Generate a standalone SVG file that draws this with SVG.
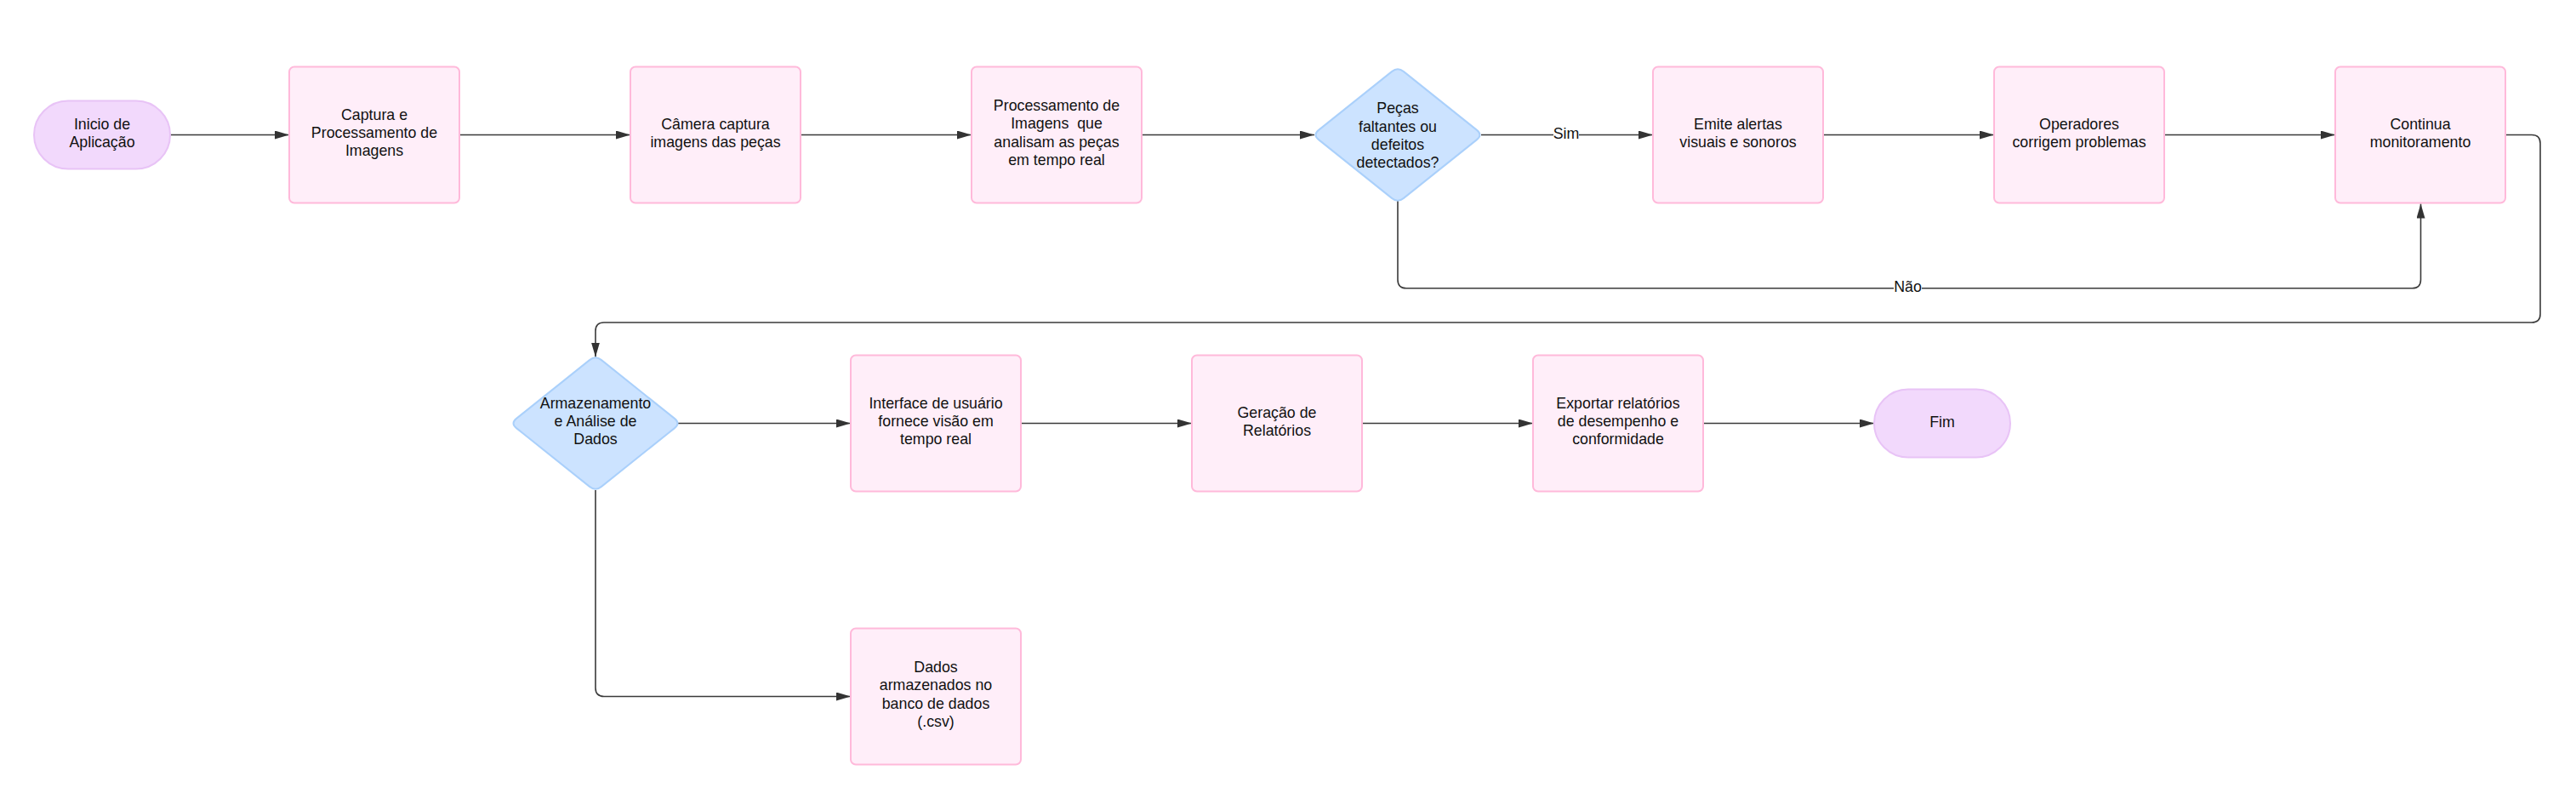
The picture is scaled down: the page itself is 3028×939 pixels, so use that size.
<svg xmlns="http://www.w3.org/2000/svg" width="3028" height="939" viewBox="0 0 3028 939">
<style>
.box{fill:#FFEEF9;stroke:#FFB9DA;stroke-width:2}
.pill{fill:#F2D9FC;stroke:#E8C3F6;stroke-width:2}
.dia{fill:#CCE3FF;stroke:#AAD0FB;stroke-width:2}
.t{font-family:"Liberation Sans",Arial,sans-serif;font-size:17.8px;fill:#111;text-anchor:middle}
.c{fill:none;stroke:#3a3a3a;stroke-width:1.6}
.lbl{fill:#fff}
</style>
<defs>
<marker id="ah" markerUnits="userSpaceOnUse" markerWidth="18" markerHeight="11" refX="17" refY="5" orient="auto">
<path d="M0,0 L17,5 L0,10 Z" fill="#333"/>
</marker>
<path id="diamond" d="M -93,-5.6 L -7,-74.4 Q 0,-80 7,-74.4 L 93,-5.6 Q 100,0 93,5.6 L 7,74.4 Q 0,80 -7,74.4 L -93,5.6 Q -100,0 -93,-5.6 Z"/>
</defs>
<rect width="3028" height="939" fill="#fff"/>

<g id="connectors">
<path class="c" d="M200,158.5 H340" marker-end="url(#ah)"/>
<path class="c" d="M540,158.5 H741" marker-end="url(#ah)"/>
<path class="c" d="M941,158.5 H1142" marker-end="url(#ah)"/>
<path class="c" d="M1343,158.5 H1545" marker-end="url(#ah)"/>
<path class="c" d="M1741,158.5 H1943" stroke-width="2.6" marker-end="url(#ah)"/>
<rect class="lbl" x="1826" y="146" width="30" height="20"/>
<text class="t" x="1841" y="162.5">Sim</text>
<path class="c" d="M2144,158.5 H2344" marker-end="url(#ah)"/>
<path class="c" d="M2545,158.5 H2745" marker-end="url(#ah)"/>
<path class="c" d="M1643,236 V328.7 Q1643,338.7 1653,338.7 H2835.5 Q2845.5,338.7 2845.5,328.7 V239.5" stroke="#555" stroke-width="1.8" marker-end="url(#ah)"/>
<rect class="lbl" x="2226" y="326" width="33" height="20"/>
<text class="t" x="2242.5" y="342.5">Não</text>
<path class="c" d="M2946,158.5 H2976 Q2986,158.5 2986,168.5 V369 Q2986,379 2976,379 H710 Q700,379 700,389 V419.5" marker-end="url(#ah)"/>
<path class="c" d="M797,497.5 H1000" marker-end="url(#ah)"/>
<path class="c" d="M1201,497.5 H1401" marker-end="url(#ah)"/>
<path class="c" d="M1602,497.5 H1802" marker-end="url(#ah)"/>
<path class="c" d="M2003,497.5 H2203" marker-end="url(#ah)"/>
<path class="c" d="M700,576 V808.5 Q700,818.5 710,818.5 H1000" marker-end="url(#ah)"/>
</g>

<g id="inicio">
<rect class="pill" x="40" y="118.5" width="160" height="80" rx="40" ry="40"/>
<text class="t" x="120" y="151.5">Inicio de</text>
<text class="t" x="120" y="172.7">Aplicação</text>
</g>

<g id="captura">
<rect class="box" x="340" y="78.5" width="200" height="160" rx="6"/>
<text class="t" x="440" y="140.5">Captura e</text>
<text class="t" x="440" y="161.8">Processamento de</text>
<text class="t" x="440" y="183.1">Imagens</text>
</g>

<g id="camera">
<rect class="box" x="741" y="78.5" width="200" height="160" rx="6"/>
<text class="t" x="841" y="151.5">Câmera captura</text>
<text class="t" x="841" y="172.7">imagens das peças</text>
</g>

<g id="processamento">
<rect class="box" x="1142" y="78.5" width="200" height="160" rx="6"/>
<text class="t" x="1242" y="129.9">Processamento de</text>
<text class="t" x="1242" y="151.2" xml:space="preserve">Imagens  que</text>
<text class="t" x="1242" y="172.5">analisam as peças</text>
<text class="t" x="1242" y="193.8">em tempo real</text>
</g>

<g id="decisao-pecas">
<use href="#diamond" class="dia" transform="translate(1643,158.5)"/>
<text class="t" x="1643" y="133.3">Peças</text>
<text class="t" x="1643" y="154.6">faltantes ou</text>
<text class="t" x="1643" y="175.9">defeitos</text>
<text class="t" x="1643" y="197.2">detectados?</text>
</g>

<g id="alertas">
<rect class="box" x="1943" y="78.5" width="200" height="160" rx="6"/>
<text class="t" x="2043" y="151.5">Emite alertas</text>
<text class="t" x="2043" y="172.7">visuais e sonoros</text>
</g>

<g id="operadores">
<rect class="box" x="2344" y="78.5" width="200" height="160" rx="6"/>
<text class="t" x="2444" y="151.5">Operadores</text>
<text class="t" x="2444" y="172.7">corrigem problemas</text>
</g>

<g id="continua">
<rect class="box" x="2745" y="78.5" width="200" height="160" rx="6"/>
<text class="t" x="2845" y="151.5">Continua</text>
<text class="t" x="2845" y="172.7">monitoramento</text>
</g>

<g id="armazenamento">
<use href="#diamond" class="dia" transform="translate(700,497.5)"/>
<text class="t" x="700" y="479.5">Armazenamento</text>
<text class="t" x="700" y="500.8">e Análise de</text>
<text class="t" x="700" y="522.1">Dados</text>
</g>

<g id="interface">
<rect class="box" x="1000" y="417.5" width="200" height="160" rx="6"/>
<text class="t" x="1100" y="479.5">Interface de usuário</text>
<text class="t" x="1100" y="500.8">fornece visão em</text>
<text class="t" x="1100" y="522.1">tempo real</text>
</g>

<g id="relatorios">
<rect class="box" x="1401" y="417.5" width="200" height="160" rx="6"/>
<text class="t" x="1501" y="490.5">Geração de</text>
<text class="t" x="1501" y="511.7">Relatórios</text>
</g>

<g id="exportar">
<rect class="box" x="1802" y="417.5" width="200" height="160" rx="6"/>
<text class="t" x="1902" y="479.5">Exportar relatórios</text>
<text class="t" x="1902" y="500.8">de desempenho e</text>
<text class="t" x="1902" y="522.1">conformidade</text>
</g>

<g id="fim">
<rect class="pill" x="2203" y="457.5" width="160" height="80" rx="40" ry="40"/>
<text class="t" x="2283" y="501.7">Fim</text>
</g>

<g id="dados">
<rect class="box" x="1000" y="738.5" width="200" height="160" rx="6"/>
<text class="t" x="1100" y="789.9">Dados</text>
<text class="t" x="1100" y="811.2">armazenados no</text>
<text class="t" x="1100" y="832.5">banco de dados</text>
<text class="t" x="1100" y="853.8">(.csv)</text>
</g>
</svg>
